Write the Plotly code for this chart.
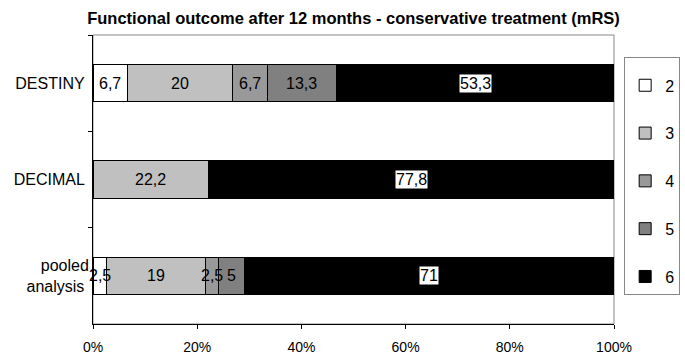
import plotly.graph_objects as go

categories = ["DESTINY", "DECIMAL", "pooled<br>analysis"]
series_names = ["2", "3", "4", "5", "6"]
values = {
    "2": [6.7, 0, 2.5],
    "3": [20, 22.2, 19],
    "4": [6.7, 0, 2.5],
    "5": [13.3, 0, 5],
    "6": [53.3, 77.8, 71],
}
colors = {"2": "#ffffff", "3": "#c0c0c0", "4": "#999999", "5": "#808080", "6": "#000000"}
x_ticks = [0, 20, 40, 60, 80, 100]
x_tick_labels = ["0%", "20%", "40%", "60%", "80%", "100%"]

FONT = "Liberation Sans, Arial"


def fmt(v):
    return ("%g" % v).replace(".", ",")


fig = go.Figure()
for name in series_names:
    fig.add_trace(go.Bar(
        y=categories, x=values[name], name=name, orientation="h",
        marker=dict(color=colors[name], line=dict(color="#000000", width=1)),
        legendgroup=name, hoverinfo="x+name",
    ))

# segment value labels, drawn on top of all bars (black segments get a white box)
annotations = []
for i, cat in enumerate(categories):
    start = 0
    for name in series_names:
        v = values[name][i]
        if v > 0:
            annotations.append(dict(
                x=start + v / 2, y=cat, xref="x", yref="y", text=fmt(v), showarrow=False,
                bgcolor="#ffffff" if name == "6" else "rgba(0,0,0,0)",
                font=dict(color="#000000", size=16, family=FONT),
                borderpad=0,
            ))
        start += v

fig.update_layout(
    width=685, height=360,
    barmode="stack", bargap=0.61,
    paper_bgcolor="#ffffff", plot_bgcolor="#ffffff",
    margin=dict(l=93, r=71, t=35, b=36, autoexpand=False),
    font=dict(family=FONT, size=14, color="#000000"),
    title=dict(text="<b>Functional outcome after 12 months - conservative treatment (mRS)</b>",
               x=0.5, xref="paper", xanchor="center", y=0.95, yanchor="middle",
               font=dict(size=16.5, family=FONT)),
    showlegend=True,
    legend=dict(x=1.127, xanchor="right", y=0.924, yanchor="top",
                bordercolor="#888888", borderwidth=1, bgcolor="#ffffff",
                traceorder="grouped", tracegroupgap=24, itemwidth=30,
                title=dict(text=" ", font=dict(size=8)),
                font=dict(size=16)),
    annotations=annotations,
    shapes=[dict(type="rect", xref="paper", yref="paper", x0=0, x1=1, y0=0, y1=1,
                 line=dict(color="#888888", width=1), layer="below")],
)
fig.update_xaxes(range=[0, 100], tickvals=x_ticks, ticktext=x_tick_labels,
                 showgrid=False, zeroline=False, showline=True, linecolor="#000000",
                 linewidth=1, ticks="outside", ticklen=4, tickcolor="#000000",
                 ticklabelstandoff=6, tickfont=dict(size=14), automargin=False)
fig.update_yaxes(autorange="reversed", showgrid=False, showline=True, linecolor="#000000",
                 linewidth=1, ticks="outside", ticklen=4, tickson="boundaries",
                 tickcolor="#000000", tickfont=dict(size=16), ticksuffix=" ",
                 automargin=False)

fig.write_html("out.html", config={"displayModeBar": False},
               post_script="document.body.style.margin='0';document.body.style.overflow='hidden';")
